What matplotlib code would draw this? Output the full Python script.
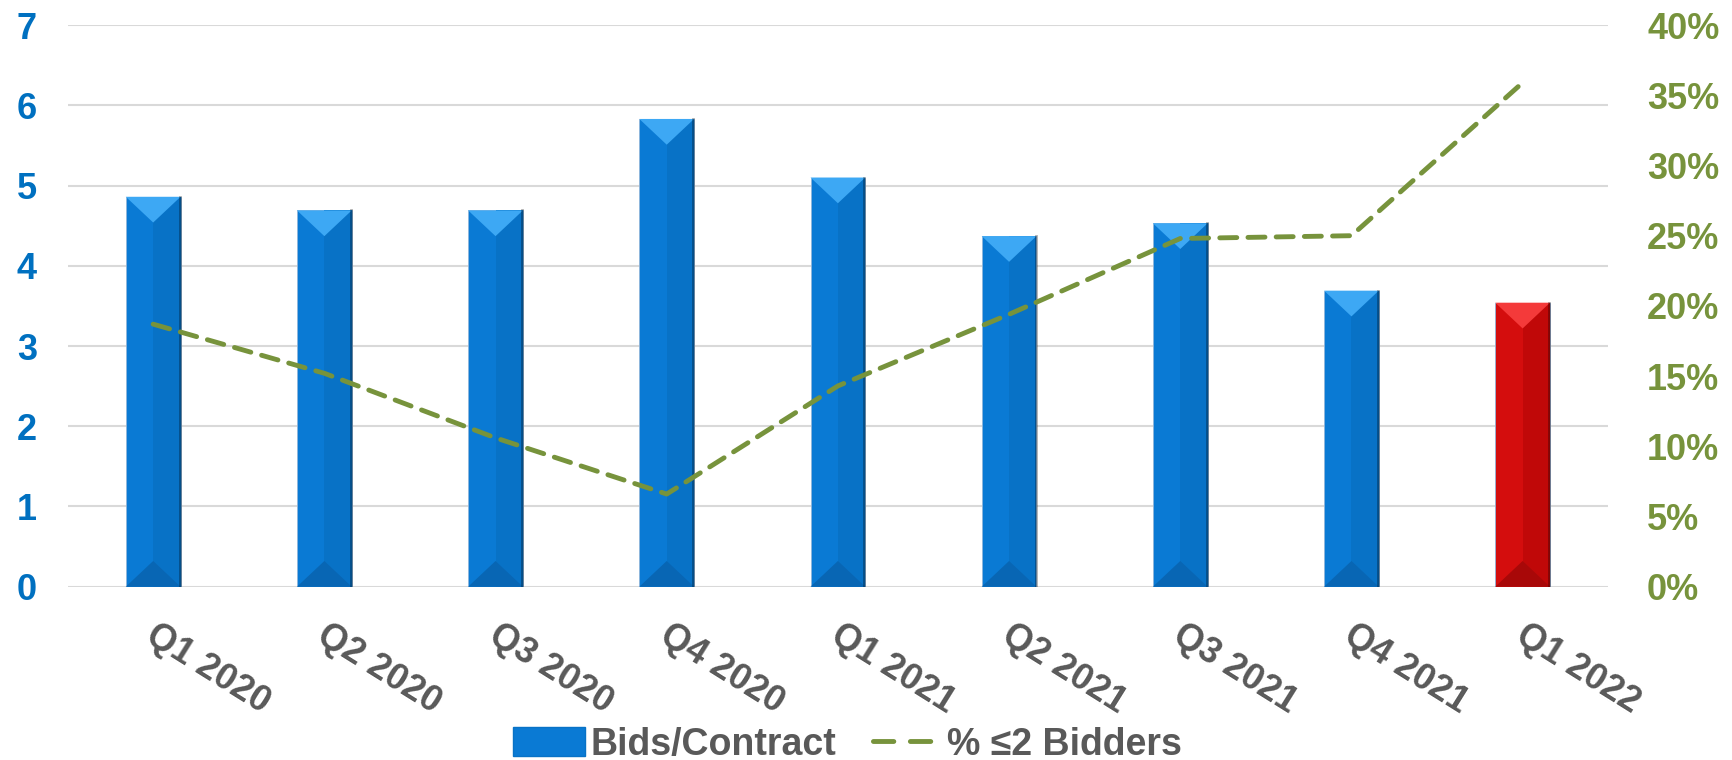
"""
Bids per contract by quarter, with share of contracts that drew two bidders or fewer.
"""
import numpy as np
import matplotlib.pyplot as plt
import matplotlib.transforms as mtrans
from matplotlib.patches import Patch
from matplotlib.lines import Line2D

plt.rcParams['font.family'] = ['Liberation Sans', 'DejaVu Sans']
plt.rcParams['font.weight'] = 'bold'

quarters = ['Q1 2020', 'Q2 2020', 'Q3 2020', 'Q4 2020', 'Q1 2021',
            'Q2 2021', 'Q3 2021', 'Q4 2021', 'Q1 2022']
bids_per_contract = [4.86, 4.69, 4.69, 5.83, 5.10, 4.37, 4.53, 3.69, 3.54]
pct_two_or_less = [18.7, 15.2, 10.6, 6.6, 14.3, 19.4, 24.8, 25.0, 35.9]
left_ticks = [0, 1, 2, 3, 4, 5, 6, 7]
right_ticks = [0, 5, 10, 15, 20, 25, 30, 35, 40]

blue = '#0A7AD4'
blue_dark = '#0872C6'
blue_top = '#3DA8F4'
blue_bot = '#0866B4'
red = '#D40D0D'
red_dark = '#C00808'
red_top = '#F43A3A'
red_bot = '#A80808'
green = '#77933C'
gray_txt = '#595959'
grid_col = '#D9D9D9'

fig = plt.figure(figsize=(17.33, 7.6), dpi=100)
ax = fig.add_axes([0.039, 0.228, 0.889, 0.739])
ax2 = ax.twinx()

x = np.arange(len(quarters))
w = 0.32
ax.set_xlim(-0.5, len(quarters) - 0.5)
ax.set_ylim(0, 7)

# bevelled bars: base, darker right half, light top wedge, dark bottom wedge
fill_cols = [blue] * (len(quarters) - 1) + [red]
half_cols = [blue_dark] * (len(quarters) - 1) + [red_dark]
top_cols = [blue_top] * (len(quarters) - 1) + [red_top]
bot_cols = [blue_bot] * (len(quarters) - 1) + [red_bot]

# height of bevel in data units so it looks like about half the bar width on screen
px_per_x = ax.transData.transform((1, 0))[0] - ax.transData.transform((0, 0))[0]
px_per_y = ax.transData.transform((0, 1))[1] - ax.transData.transform((0, 0))[1]
bev = w * 0.47 * px_per_x / px_per_y

ax.bar(x, bids_per_contract, width=w, color=fill_cols, zorder=2,
       edgecolor='#8FB5DA', linewidth=0.6)
ax.bar(x, bids_per_contract, width=w / 2, align='edge', color=half_cols, zorder=2.1)
for xi, v, tc, bc in zip(x, bids_per_contract, top_cols, bot_cols):
    ax.fill([xi - w / 2, xi + w / 2, xi], [v, v, v - bev], color=tc, zorder=2.2, lw=0)
    ax.fill([xi - w / 2, xi + w / 2, xi], [0, 0, bev], color=bc, zorder=2.2, lw=0)
    ax.plot([xi + w / 2 - 0.005, xi + w / 2 - 0.005], [0, v], color='#00000050', lw=2, zorder=2.3)

ax.set_yticks(left_ticks)
ax.grid(axis='y', color=grid_col, linewidth=1.5, zorder=0)
ax.set_axisbelow(True)
for s in ax.spines.values():
    s.set_visible(False)
for s in ax2.spines.values():
    s.set_visible(False)
ax.tick_params(axis='y', length=0, pad=22, labelsize=26, labelcolor='#0070C0')
ax.tick_params(axis='x', length=0, pad=22, labelsize=26, labelcolor=gray_txt)
ax.set_xticks(x)
ax.set_xticklabels(quarters, rotation=-32, ha='left', va='top', rotation_mode='anchor')
# nudge labels slightly right of the bar centre
offset = mtrans.ScaledTranslation(4 / 72, 0, fig.dpi_scale_trans)
for lab in ax.get_xticklabels():
    lab.set_transform(lab.get_transform() + offset)

ax2.plot(x, pct_two_or_less, color=green, lw=3.5, linestyle=(0, (3.5, 2.3)),
         dash_capstyle='round', zorder=3)
ax2.set_ylim(0, 40)
ax2.set_yticks(right_ticks)
ax2.set_yticklabels([f'{t}%' for t in right_ticks])
ax2.tick_params(axis='y', length=0, pad=28, labelsize=26, labelcolor=green)

handles = [Patch(facecolor=blue, edgecolor=blue_dark),
           Line2D([0], [0], color=green, lw=3.5, linestyle=(7.0, (4.2, 3.4)),
                  dash_capstyle='round')]
fig.legend(handles, ['Bids/Contract', '% \u22642 Bidders'], loc='center',
           bbox_to_anchor=(0.489, 0.02), ncol=2, frameon=False, fontsize=27,
           labelcolor=gray_txt, handlelength=1.9, handleheight=0.8,
           handletextpad=0.15, columnspacing=0.9, borderpad=0)

plt.savefig('out.png', dpi=100)
